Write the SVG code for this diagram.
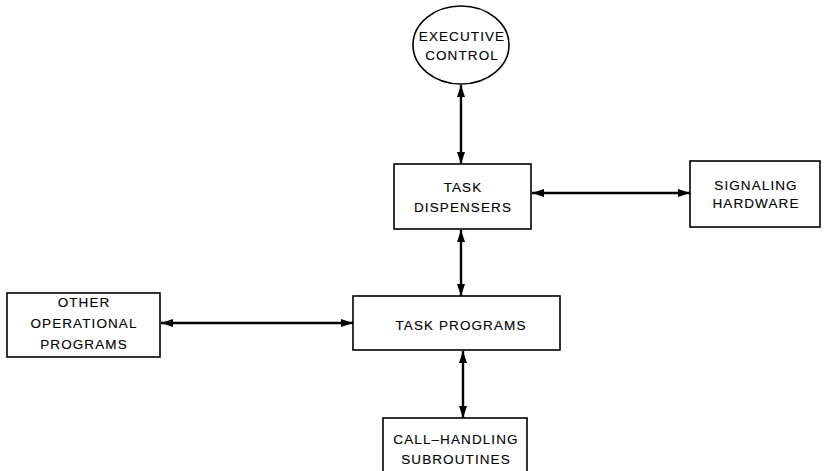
<svg xmlns="http://www.w3.org/2000/svg" width="826" height="471" viewBox="0 0 826 471">
<style>
.box{fill:#fff;stroke:#000;stroke-width:1.6}
.t{font-family:"Liberation Sans",Arial,sans-serif;font-size:13.5px;letter-spacing:1.1px;text-anchor:middle;fill:#000;stroke:#000;stroke-width:0.12}
.c{stroke:#000;stroke-width:2.4;fill:none;marker-start:url(#ah);marker-end:url(#ah)}
</style>
<defs>
<marker id="ah" viewBox="0 0 12 8" refX="12" refY="4" markerWidth="12" markerHeight="8" markerUnits="userSpaceOnUse" orient="auto-start-reverse">
<path d="M0,0 L12,4 L0,8 Z" fill="#000"/>
</marker>
</defs>
<rect width="826" height="471" fill="#fff"/>
<g id="connectors">
<line class="c" x1="461" y1="85" x2="461" y2="164"/>
<line class="c" x1="532" y1="193" x2="690" y2="193"/>
<line class="c" x1="461" y1="230" x2="461" y2="296"/>
<line class="c" x1="161" y1="323" x2="353" y2="323"/>
<line class="c" x1="463" y1="351" x2="463" y2="418"/>
</g>
<g id="executive-control">
<ellipse class="box" cx="461" cy="45" rx="48" ry="39"/>
<text class="t" x="462" y="41">EXECUTIVE</text>
<text class="t" x="462" y="60">CONTROL</text>
</g>
<g id="task-dispensers">
<rect class="box" x="394" y="164" width="137" height="65"/>
<text class="t" x="463" y="192">TASK</text>
<text class="t" x="463" y="212">DISPENSERS</text>
</g>
<g id="signaling-hardware">
<rect class="box" x="690" y="161" width="130" height="66"/>
<text class="t" x="756" y="190">SIGNALING</text>
<text class="t" x="756" y="208">HARDWARE</text>
</g>
<g id="other-operational-programs">
<rect class="box" x="7" y="293" width="153" height="64"/>
<text class="t" x="84" y="307">OTHER</text>
<text class="t" x="84" y="328">OPERATIONAL</text>
<text class="t" x="84" y="349">PROGRAMS</text>
</g>
<g id="task-programs">
<rect class="box" x="353" y="296" width="207" height="54"/>
<text class="t" x="461" y="330">TASK PROGRAMS</text>
</g>
<g id="call-handling-subroutines">
<rect class="box" x="383" y="418" width="144" height="60"/>
<text class="t" x="456" y="444">CALL–HANDLING</text>
<text class="t" x="456" y="464">SUBROUTINES</text>
</g>
</svg>
